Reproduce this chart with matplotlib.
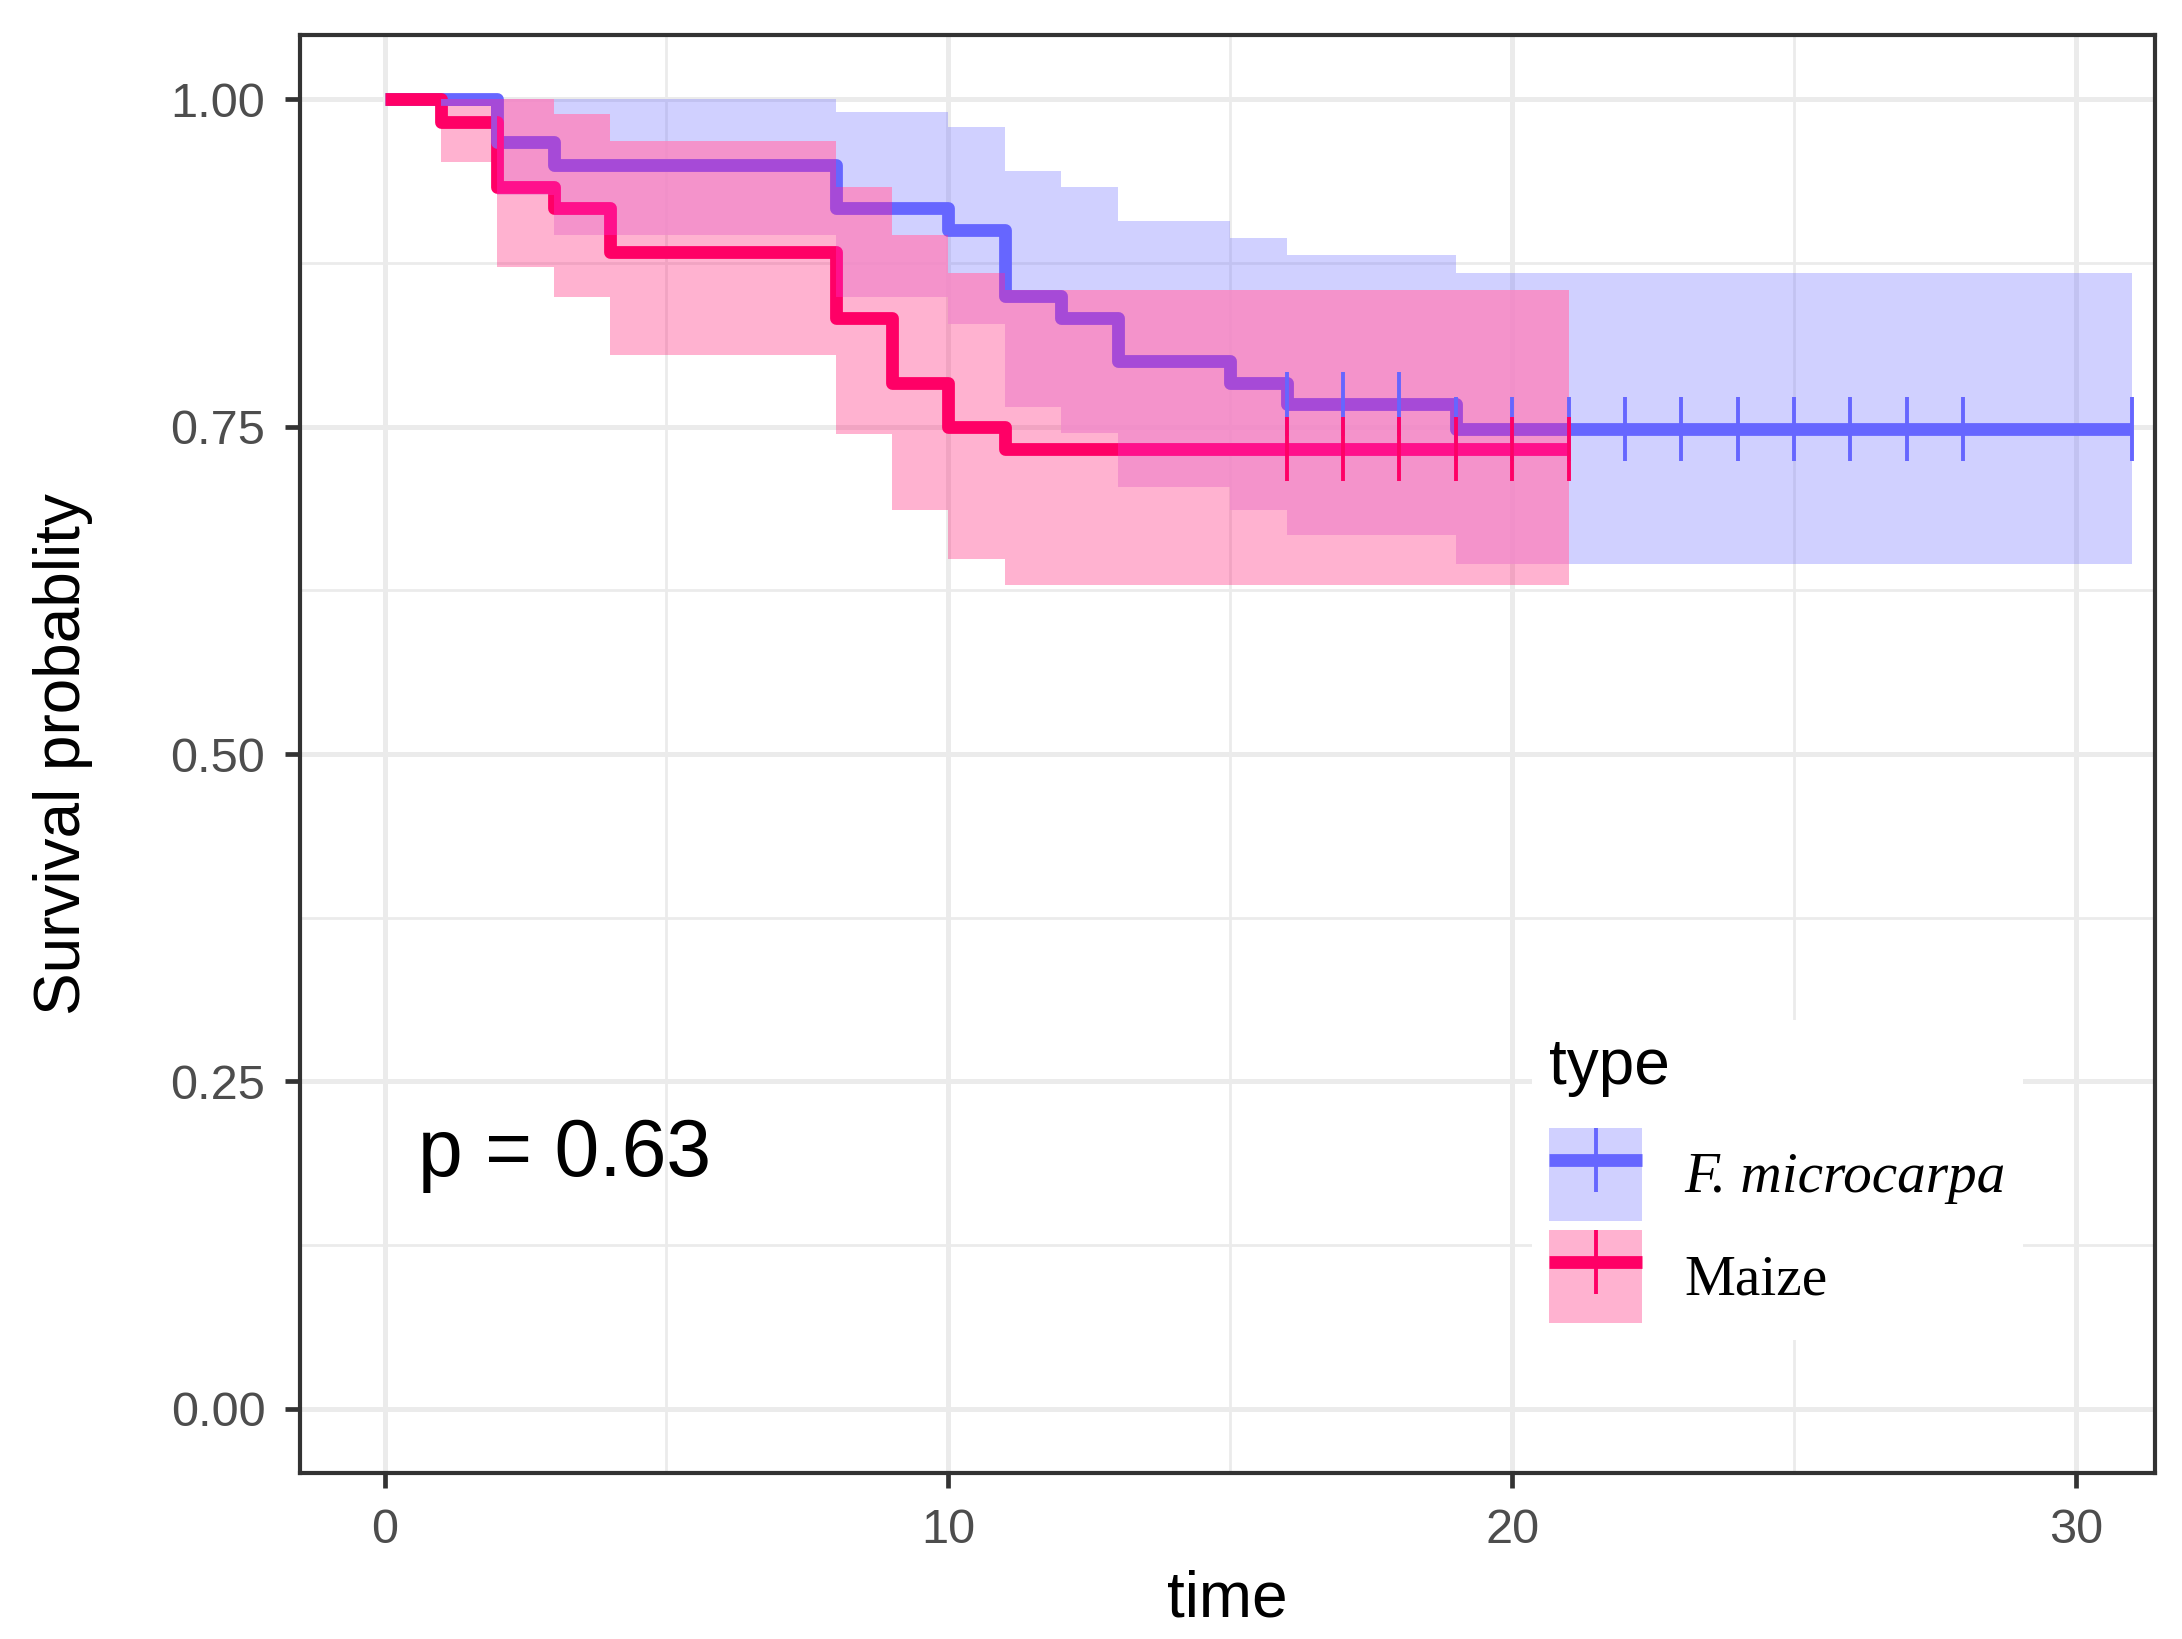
import numpy as np
import matplotlib
matplotlib.use("Agg")
import matplotlib.pyplot as plt
from matplotlib.patches import Patch
from matplotlib.lines import Line2D

plt.rcParams["font.family"] = ["Liberation Sans", "DejaVu Sans"]

# Kaplan-Meier curves (step values start at each time)
blue_time = [0, 2, 3, 8, 10, 11, 12, 13, 15, 16, 19, 31]
blue_surv = [1.0, 0.967, 0.950, 0.917, 0.900, 0.850, 0.833, 0.800, 0.783, 0.767, 0.748, 0.748]
blue_lower = [1.0, 0.927, 0.896, 0.849, 0.828, 0.765, 0.745, 0.704, 0.686, 0.667, 0.645, 0.645]
blue_upper = [1.0, 1.0, 1.0, 0.990, 0.979, 0.945, 0.933, 0.907, 0.894, 0.881, 0.867, 0.867]
blue_censor = [16, 17, 18, 19, 20, 21, 22, 23, 24, 25, 26, 27, 28, 31]

red_time = [0, 1, 2, 3, 4, 8, 9, 10, 11, 21]
red_surv = [1.0, 0.983, 0.933, 0.917, 0.883, 0.833, 0.783, 0.750, 0.733, 0.733]
red_lower = [1.0, 0.952, 0.872, 0.849, 0.805, 0.744, 0.686, 0.649, 0.629, 0.629]
red_upper = [1.0, 1.0, 1.0, 0.989, 0.968, 0.933, 0.896, 0.867, 0.854, 0.854]
red_censor = [16, 17, 18, 19, 20, 21]

groups = ["F. microcarpa", "Maize"]
pval_text = "p = 0.63"

BLUE = "#6666FF"
RED = "#FF0066"
ALPHA = 0.3
LW = 4.6
TICK_MS = 23
# colours seen where the two ribbons overlap in the original
OVERLAP = "#FE95CA"
BLUE_UNDER_RED = "#A64AD7"
RED_UNDER_BLUE = "#FF108C"


def step_at(times, vals, t):
    i = np.searchsorted(times, t, side="right") - 1
    return np.asarray(vals)[i]


fig = plt.figure(figsize=(10.91, 8.195), dpi=200)
ax = fig.add_axes([0.1375, 0.1013, 0.9876 - 0.1375, 0.9786 - 0.1013])

# survminer order: lines, then ribbons, then censor marks
ax.step(blue_time, blue_surv, where="post", color=BLUE, lw=LW,
        solid_joinstyle="round", solid_capstyle="butt", zorder=3)
ax.step(red_time, red_surv, where="post", color=RED, lw=LW,
        solid_joinstyle="round", solid_capstyle="butt", zorder=3)
blue_band = ax.fill_between(blue_time, blue_lower, blue_upper, step="post",
                            color=BLUE, alpha=ALPHA, lw=0, zorder=4)
red_band = ax.fill_between(red_time, red_lower, red_upper, step="post",
                           color=RED, alpha=ALPHA, lw=0, zorder=4.1)
red_path = red_band.get_paths()[0]
blue_path = blue_band.get_paths()[0]

# overlap tint and the line parts that sit under the other ribbon
ov = ax.fill_between(blue_time, blue_lower, blue_upper, step="post",
                     color=OVERLAP, alpha=0.7, lw=0, zorder=4.2)
ov.set_clip_path(red_path, ax.transData)
(bl,) = ax.step(blue_time, blue_surv, where="post", color=BLUE_UNDER_RED, lw=LW,
                solid_joinstyle="round", solid_capstyle="butt", zorder=4.3)
bl.set_clip_path(red_path, ax.transData)
(rl,) = ax.step(red_time, red_surv, where="post", color=RED_UNDER_BLUE, lw=LW,
                solid_joinstyle="round", solid_capstyle="butt", zorder=4.3)
rl.set_clip_path(blue_path, ax.transData)

for t, s, cen, col in [(blue_time, blue_surv, blue_censor, BLUE),
                       (red_time, red_surv, red_censor, RED)]:
    cy = [step_at(t, s, c) for c in cen]
    ax.plot(cen, cy, ls="none", marker="|", ms=TICK_MS, mew=1.4, color=col, zorder=5)

ax.set_xlim(-1.5, 31.4)
ax.set_ylim(-0.049, 1.049)
ax.set_xticks([0, 10, 20, 30])
ax.set_xticks([5, 15, 25], minor=True)
ax.set_yticks([0, 0.25, 0.5, 0.75, 1.0])
ax.set_yticklabels(["0.00", "0.25", "0.50", "0.75", "1.00"])
ax.set_yticks([0.125, 0.375, 0.625, 0.875], minor=True)
ax.grid(which="major", color="#EBEBEB", lw=1.8, zorder=0)
ax.grid(which="minor", color="#EBEBEB", lw=1.0, zorder=0)
ax.set_axisbelow(True)
ax.tick_params(which="major", length=5.5, width=1.7, color="#333333",
               labelsize=17.5, labelcolor="#4D4D4D", pad=7)
ax.tick_params(which="minor", length=0)
for sp in ax.spines.values():
    sp.set_color("#333333")
    sp.set_linewidth(1.5)

ax.set_xlabel("time", fontsize=23, labelpad=6)
ax.set_ylabel("Survival probablity", fontsize=23, labelpad=28)

ax.text(0.6, 0.178, pval_text, fontsize=29, ha="left", va="baseline", zorder=6)

handles = []
for col in (BLUE, RED):
    handles.append((Patch(facecolor=col, alpha=ALPHA, lw=0),
                    Line2D([], [], color=col, lw=LW, solid_capstyle="butt",
                           marker="|", ms=TICK_MS, mew=1.4)))
leg = ax.legend(handles, groups, title="type", loc="upper left",
                bbox_to_anchor=(1532 / 2182, 1 - 1020 / 1639),
                bbox_transform=fig.transFigure, borderaxespad=0,
                prop={"family": "Liberation Serif", "size": 20.6},
                title_fontproperties={"family": "Liberation Sans", "size": 23},
                handlelength=1.62, handleheight=2.12, labelspacing=0.16,
                handletextpad=0.75, borderpad=0.3, frameon=True, fancybox=False,
                edgecolor="none", facecolor="white", framealpha=1.0)
leg._legend_box.align = "left"
leg._legend_box.sep = 11
leg.get_texts()[0].set_fontstyle("italic")
leg.set_zorder(7)

fig.savefig("out.png", dpi=200)
